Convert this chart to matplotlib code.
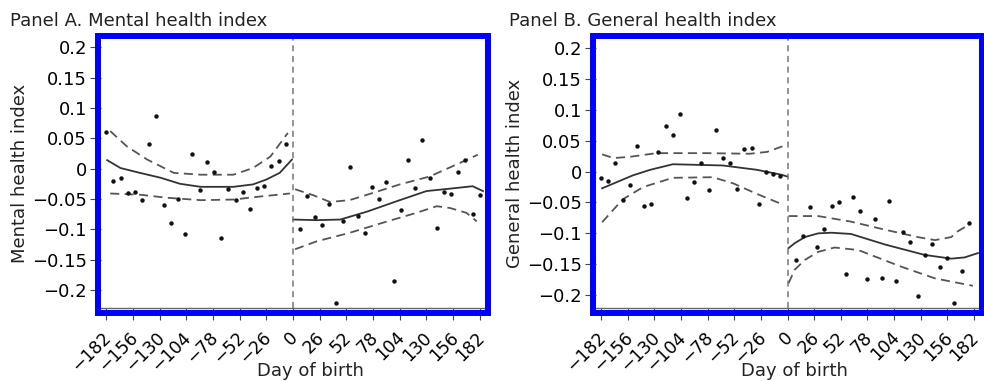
import matplotlib
matplotlib.use("Agg")
import matplotlib.pyplot as plt
from matplotlib.patches import Rectangle
from matplotlib.transforms import ScaledTranslation

# ---- data ----
days_left = [-182 + 7 * k for k in range(26)]
days_right_a = [7 + 7 * k for k in range(26)]
days_right_b = [8, 15, 22, 29, 36, 43, 50, 57, 64, 71, 78, 85, 92, 99, 106,
                113, 120, 127, 134, 141, 149, 156, 163, 170, 177]

mental_left = [0.060, -0.021, -0.015, -0.040, -0.039, -0.051, 0.040, 0.087, -0.060,
               -0.090, -0.050, -0.108, 0.024, -0.035, 0.011, -0.006, -0.115, -0.034,
               -0.051, -0.038, -0.066, -0.032, -0.028, 0.005, 0.012, 0.041]
mental_right = [-0.099, -0.045, -0.079, -0.093, -0.058, -0.222, -0.086, 0.002, -0.078,
                -0.106, -0.031, -0.050, -0.022, -0.185, -0.068, 0.014, -0.032, 0.047,
                -0.015, -0.098, -0.039, -0.042, -0.005, 0.014, -0.075, -0.044]

general_left = [-0.010, -0.015, 0.014, -0.046, -0.022, 0.041, -0.056, -0.052, 0.032,
                0.074, 0.060, 0.093, -0.042, -0.017, 0.014, -0.030, 0.067, 0.022,
                0.014, -0.028, 0.036, 0.038, -0.053, -0.001, -0.003, -0.007]
general_right = [-0.144, -0.104, -0.058, -0.122, -0.093, -0.056, -0.049, -0.166, -0.041,
                 -0.064, -0.174, -0.077, -0.173, -0.047, -0.177, -0.098, -0.114, -0.202,
                 -0.135, -0.118, -0.154, -0.140, -0.213, -0.161, -0.084]

# fitted curves (solid) and confidence bands (dashed)
ma_fit_l_x = [-181, -168, -149, -129, -110, -90, -58, -39, -26, -13, -1]
ma_fit_l = [0.014, 0.001, -0.007, -0.015, -0.025, -0.030, -0.030, -0.026, -0.018, -0.007, 0.015]
ma_up_l_x = [-178, -162, -142, -116, -90, -58, -39, -22, -5]
ma_up_l = [0.062, 0.037, 0.015, -0.007, -0.010, -0.010, 0.001, 0.020, 0.059]
ma_lo_l_x = [-178, -149, -123, -90, -58, -32, -3]
ma_lo_l = [-0.041, -0.043, -0.048, -0.052, -0.051, -0.046, -0.041]

ma_fit_r_x = [0, 23, 46, 72, 104, 130, 153, 175, 185]
ma_fit_r = [-0.084, -0.085, -0.084, -0.071, -0.052, -0.037, -0.033, -0.029, -0.037]
ma_up_r_x = [2, 20, 36, 55, 78, 104, 133, 162, 180]
ma_up_r = [-0.034, -0.044, -0.055, -0.052, -0.040, -0.026, -0.013, 0.009, 0.023]
ma_lo_r_x = [2, 23, 55, 88, 120, 140, 153, 169, 179]
ma_lo_r = [-0.133, -0.120, -0.106, -0.089, -0.073, -0.062, -0.065, -0.073, -0.087]

gh_fit_l_x = [-181, -151, -134, -112, -63, -30, -6, 0]
gh_fit_l = [-0.027, -0.006, 0.003, 0.012, 0.010, 0.003, -0.005, -0.008]
gh_up_l_x = [-181, -170, -154, -128, -79, -37, -20, -5]
gh_up_l = [0.028, 0.022, 0.024, 0.030, 0.030, 0.029, 0.032, 0.041]
gh_lo_l_x = [-181, -161, -141, -112, -73, -53, -30, -5]
gh_lo_l = [-0.082, -0.045, -0.025, -0.010, -0.009, -0.019, -0.036, -0.053]

gh_fit_r_x = [1, 7, 17, 30, 43, 62, 95, 134, 160, 173, 186]
gh_fit_r = [-0.124, -0.116, -0.106, -0.100, -0.099, -0.101, -0.118, -0.135, -0.141, -0.139, -0.132]
gh_up_r_x = [1, 30, 62, 95, 127, 144, 160, 166, 178]
gh_up_r = [-0.072, -0.072, -0.081, -0.094, -0.106, -0.111, -0.106, -0.097, -0.085]
gh_lo_r_x = [1, 7, 17, 30, 46, 69, 111, 144, 181]
gh_lo_r = [-0.181, -0.159, -0.143, -0.130, -0.123, -0.127, -0.154, -0.173, -0.185]

xticks = [-182, -156, -130, -104, -78, -52, -26, 0, 26, 52, 78, 104, 130, 156, 182]
xticklabels = ["\u2212182", "\u2212156", "\u2212130", "\u2212104", "\u221278", "\u221252",
               "\u221226", "0", "26", "52", "78", "104", "130", "156", "182"]
yticks = [0.2, 0.15, 0.1, 0.05, 0, -0.05, -0.1, -0.15, -0.2]
yticklabels = ["0.2", "0.15", "0.1", "0.05", "0", "\u22120.05", "\u22120.1",
               "\u22120.15", "\u22120.2"]

panels = [
    dict(title="Panel A. Mental health index", ylabel="Mental health index",
         pts=[(days_left, mental_left), (days_right_a, mental_right)],
         fits=[(ma_fit_l_x, ma_fit_l), (ma_fit_r_x, ma_fit_r)],
         bands=[(ma_up_l_x, ma_up_l), (ma_lo_l_x, ma_lo_l),
                (ma_up_r_x, ma_up_r), (ma_lo_r_x, ma_lo_r)],
         ylim=(-0.230, 0.214)),
    dict(title="Panel B. General health index", ylabel="General health index",
         pts=[(days_left, general_left), (days_right_b, general_right)],
         fits=[(gh_fit_l_x, gh_fit_l), (gh_fit_r_x, gh_fit_r)],
         bands=[(gh_up_l_x, gh_up_l), (gh_lo_l_x, gh_lo_l),
                (gh_up_r_x, gh_up_r), (gh_lo_r_x, gh_lo_r)],
         ylim=(-0.221, 0.215)),
]

plt.rcParams["font.family"] = ["DejaVu Sans"]
W, H = 984, 381
fig = plt.figure(figsize=(W / 100, H / 100), dpi=100)

# pixel layout: inner axes box, blue frame, text anchors
inner = [(101, 485), (596, 979)]
frame = [(98, 488), (593, 982)]
title_x = [10, 509]
ylab_x = [20, 515]
xlab_x = [310, 794]
top, bottom = 39, 308

# nudge rotated tick labels a little left so they sit under their ticks
shift = ScaledTranslation(-4 / 100, 0, fig.dpi_scale_trans)

for i, p in enumerate(panels):
    l, r = inner[i]
    ax = fig.add_axes([l / W, 1 - bottom / H, (r - l) / W, (bottom - top) / H])
    for (x, y) in p["bands"]:
        ax.plot(x, y, color="#555555", lw=1.3, dashes=(5, 3))
    for (x, y) in p["fits"]:
        ax.plot(x, y, color="#333333", lw=1.3)
    for (x, y) in p["pts"]:
        ax.plot(x, y, "o", color="#111111", ms=3.2, mec="none")
    ax.axvline(0, color="#777777", lw=1.1, dashes=(4, 3))

    ax.set_xlim(-187, 187)
    ax.set_ylim(*p["ylim"])
    ax.set_xticks(xticks)
    ax.set_yticks(yticks)
    ax.set_yticklabels(yticklabels, fontsize=13)
    ax.tick_params(axis="y", length=8, width=0.8, color="#444444", pad=2)
    ax.tick_params(axis="x", length=8.6, width=0.8, color="#444444", pad=6)
    ax.set_xticklabels(xticklabels, rotation=45, ha="right", va="top",
                       rotation_mode="anchor", fontsize=12.5)
    for lab in ax.get_xticklabels():
        lab.set_transform(lab.get_transform() + shift)
    for s in ["top", "right", "left"]:
        ax.spines[s].set_visible(False)
    ax.spines["bottom"].set_color("#666666")
    ax.spines["bottom"].set_linewidth(1.0)

    fl, fr = frame[i]
    fig.add_artist(Rectangle((fl / W, 1 - 313 / H), (fr - fl) / W, (313 - 36.3) / H,
                             transform=fig.transFigure, fill=False,
                             edgecolor="#0000ff", lw=4.3, zorder=5))

    fig.text(title_x[i] / W, 1 - 21 / H, p["title"], fontsize=13,
             ha="left", va="center", color="#222222")
    fig.text(ylab_x[i] / W, 1 - (top + bottom) / 2 / H, p["ylabel"], fontsize=13,
             rotation=90, ha="center", va="center", color="#222222")
    fig.text(xlab_x[i] / W, 1 - 371 / H, "Day of birth", fontsize=13,
             ha="center", va="center", color="#222222")

fig.savefig("out.png", dpi=100)
